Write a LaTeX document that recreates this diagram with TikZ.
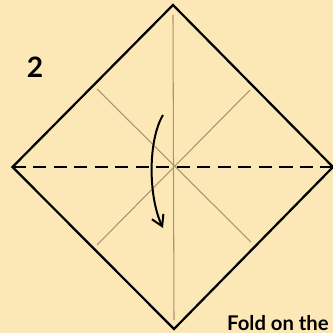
\documentclass[tikz,border=0pt]{standalone}
\usepackage{fontspec}
\setmainfont{Lato}
\usetikzlibrary{arrows.meta}

\definecolor{paper}{RGB}{252,232,182}
\definecolor{crease}{RGB}{170,148,110}

\begin{document}
\begin{tikzpicture}[
    x=0.3mm, y=-0.3mm,
    edge/.style   ={draw=black, line width=1.9pt, line join=miter},
    foldline/.style={draw=black, line width=1.6pt, dash pattern=on 11.5pt off 6pt},
    creaseline/.style={draw=crease, line width=0.9pt},
    turn/.style   ={draw=black, line width=1.7pt, -{Straight Barb[length=3.2mm, width=3.8mm, line width=1.7pt]}},
    steplab/.style={font=\bfseries\fontsize{24}{28}\selectfont, inner sep=0pt},
    caption/.style={font=\bfseries\fontsize{17.3}{20}\selectfont, inner sep=0pt},
  ]

  % ---------------- page (pixel coordinates, y going down) ----------------
  \fill[paper] (0,0) rectangle (333,333);
  \useasboundingbox (0,0) rectangle (333,333);

  % ---------------- corners of the square, turned on its point ------------
  \path (173,5)     coordinate (top)
        (12.5,167)  coordinate (left)
        (333,167)   coordinate (right)
        (174,329)   coordinate (bottom)
        (173,167)   coordinate (mid);

  % ---------------- old creases -------------------------------------------
  \draw[creaseline] (173,15) -- (174,320);
  \draw[creaseline] (97,89)  -- (251,242);
  \draw[creaseline] (250,90) -- (97,245);

  % ---------------- the square and the fold -------------------------------
  \draw[edge] (top) -- (right) -- (bottom) -- (left) -- cycle;
  \draw[foldline] (left) -- (right);

  % ---------------- fold the top down -------------------------------------
  \coordinate (from) at (163,115);
  \coordinate (to)   at (163,228);
  \draw[turn] (from) .. controls (148,140) and (148,196) .. (to);

  % ---------------- texts -------------------------------------------------
  \node[steplab, anchor=base] (num) at (35,77) {2};
  \node[caption, anchor=base west] (note) at (227,330) {Fold on the};

\end{tikzpicture}
\end{document}
